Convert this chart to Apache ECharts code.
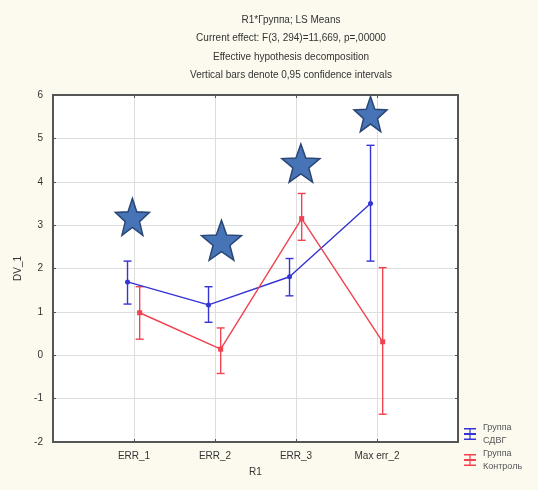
<!DOCTYPE html>
<html>
<head>
<meta charset="utf-8">
<script src="https://cdn.jsdelivr.net/npm/echarts@6/dist/echarts.min.js"></script>
<style>
html,body{margin:0;padding:0;background:#fcf9ef;}
#chart{width:538px;height:490px;}
</style>
</head>
<body>
<div id="chart"></div>
<script>
// ---- data ----
const categories = ['ERR_1', 'ERR_2', 'ERR_3', 'Max err_2'];
const yTicks = [-2, -1, 0, 1, 2, 3, 4, 5, 6];
const titleLines = [
  'R1*Группа; LS Means',
  'Current effect: F(3, 294)=11,669, p=,00000',
  'Effective hypothesis decomposition',
  'Vertical bars denote 0,95 confidence intervals'
];
const seriesNames = ['Группа\nСДВГ', 'Группа\nКонтроль'];
const adhdMean = [1.69, 1.16, 1.81, 3.50];
const adhdLow  = [1.18, 0.76, 1.37, 2.17];
const adhdHigh = [2.17, 1.58, 2.23, 4.84];
const ctrlMean = [0.98, 0.14, 3.15, 0.31];
const ctrlLow  = [0.37, -0.42, 2.65, -1.36];
const ctrlHigh = [1.58, 0.63, 3.73, 2.02];
const starX = [0.98, 2.08, 3.06, 3.92];
const starY = [3.19, 2.65, 4.43, 5.56];

// ---- styling ----
const BLUE = '#3434d4';
const RED = '#f0424f';
const offB = -0.08, offR = 0.07;
const starSizes = [[34, 37], [40, 40], [38, 38], [33, 35]];
const STAR = 'path://M50 0 L62.3 33 L97.55 34.55 L70 56.8 L79.39 90.45 L50 71 L20.61 90.45 L30 56.8 L2.45 34.55 L37.7 33 Z';
const FONT = 'Arial, "Liberation Sans", sans-serif';

function pts(mean, off) { return mean.map((v, i) => [i + 1 + off, v]); }
function bars(lo, hi, off) { return lo.map((v, i) => [i + 1 + off, v, hi[i]]); }
function errRender(color) {
  return function (params, api) {
    const x = api.value(0);
    const a = api.coord([x, api.value(1)]);
    const b = api.coord([x, api.value(2)]);
    const w = 4;
    const st = { stroke: color, lineWidth: 1.4 };
    return { type: 'group', children: [
      { type: 'line', shape: { x1: a[0], y1: a[1], x2: b[0], y2: b[1] }, style: st },
      { type: 'line', shape: { x1: a[0] - w, y1: a[1], x2: a[0] + w, y2: a[1] }, style: st },
      { type: 'line', shape: { x1: b[0] - w, y1: b[1], x2: b[0] + w, y2: b[1] }, style: st }
    ]};
  };
}
const ICON = 'path://M0 0H20V2.5H0Z M9 2.5H11V8.5H9Z M0 8.5H20V11.5H0Z M9 11.5H11V17.5H9Z M0 17.5H20V20H0Z';
const legendText = { fontSize: 9, color: '#555', lineHeight: 13, fontFamily: FONT };

const chart = echarts.init(document.getElementById('chart'));
chart.setOption({
  backgroundColor: '#fcf9ef',
  animation: false,
  textStyle: { fontFamily: FONT },
  title: {
    text: titleLines.join('\n'),
    left: 286, top: 6, textAlign: 'center',
    textStyle: { fontSize: 10, fontWeight: 'normal', color: '#333', lineHeight: 18.3, fontFamily: FONT }
  },
  grid: { left: 53, right: 80, top: 95, bottom: 48, show: true, backgroundColor: '#fff', borderColor: '#555', borderWidth: 2 },
  legend: [{
    orient: 'vertical', left: 464, top: 421, padding: 0,
    itemWidth: 16, itemHeight: 12, textStyle: legendText,
    data: [{ name: seriesNames[0], icon: ICON, itemStyle: { color: BLUE } }]
  }, {
    orient: 'vertical', left: 464, top: 447, padding: 0,
    itemWidth: 16, itemHeight: 12, textStyle: legendText,
    data: [{ name: seriesNames[1], icon: ICON, itemStyle: { color: RED } }]
  }],
  xAxis: [{
    type: 'value', min: 0, max: 5, interval: 1,
    name: 'R1', nameLocation: 'middle', nameGap: 25,
    nameTextStyle: { fontSize: 10, color: '#333' },
    axisLine: { show: true, onZero: false, lineStyle: { color: '#555', width: 2 } },
    axisTick: { show: true, inside: true, length: 3, lineStyle: { color: '#555' } },
    axisLabel: { fontSize: 10, color: '#333', margin: 9, formatter: v => (v >= 1 && v <= 4) ? categories[v - 1] : '' },
    splitLine: { show: true, lineStyle: { color: '#dedede', width: 1 } }
  }, {
    type: 'value', min: 0, max: 5, interval: 1, position: 'top',
    axisLine: { show: true, onZero: false, lineStyle: { color: '#555', width: 2 } },
    axisTick: { show: true, inside: true, length: 3, lineStyle: { color: '#555' } },
    axisLabel: { show: false }, splitLine: { show: false }
  }],
  yAxis: [{
    type: 'value', min: yTicks[0], max: yTicks[yTicks.length - 1], interval: 1,
    name: 'DV_1', nameLocation: 'middle', nameGap: 27,
    nameTextStyle: { fontSize: 10, color: '#333' },
    axisLine: { show: true, onZero: false, lineStyle: { color: '#555', width: 2 } },
    axisTick: { show: true, inside: true, length: 3, lineStyle: { color: '#555' } },
    axisLabel: { fontSize: 10, color: '#333', margin: 10 },
    splitLine: { show: true, lineStyle: { color: '#dedede', width: 1 } }
  }, {
    type: 'value', min: yTicks[0], max: yTicks[yTicks.length - 1], interval: 1, position: 'right',
    axisLine: { show: true, onZero: false, lineStyle: { color: '#555', width: 2 } },
    axisTick: { show: true, inside: true, length: 3, lineStyle: { color: '#555' } },
    axisLabel: { show: false }, splitLine: { show: false }
  }],
  series: [
    {
      name: seriesNames[0], type: 'line', data: pts(adhdMean, offB),
      symbol: 'circle', symbolSize: 5, z: 4,
      lineStyle: { color: BLUE, width: 1.4 }, itemStyle: { color: BLUE }
    },
    {
      name: seriesNames[0], type: 'custom', data: bars(adhdLow, adhdHigh, offB),
      renderItem: errRender(BLUE), z: 3, encode: { x: 0, y: [1, 2] }
    },
    {
      name: seriesNames[1], type: 'line', data: pts(ctrlMean, offR),
      symbol: 'rect', symbolSize: 5, z: 4,
      lineStyle: { color: RED, width: 1.4 }, itemStyle: { color: RED }
    },
    {
      name: seriesNames[1], type: 'custom', data: bars(ctrlLow, ctrlHigh, offR),
      renderItem: errRender(RED), z: 3, encode: { x: 0, y: [1, 2] }
    },
    {
      name: 'stars', type: 'scatter', z: 5,
      data: starX.map((x, i) => ({ value: [x, starY[i]], symbolSize: starSizes[i] })),
      symbol: STAR,
      itemStyle: { color: '#4774b6', borderColor: '#2a4675', borderWidth: 1.5, opacity: 1 }
    }
  ]
});
</script>
</body>
</html>
